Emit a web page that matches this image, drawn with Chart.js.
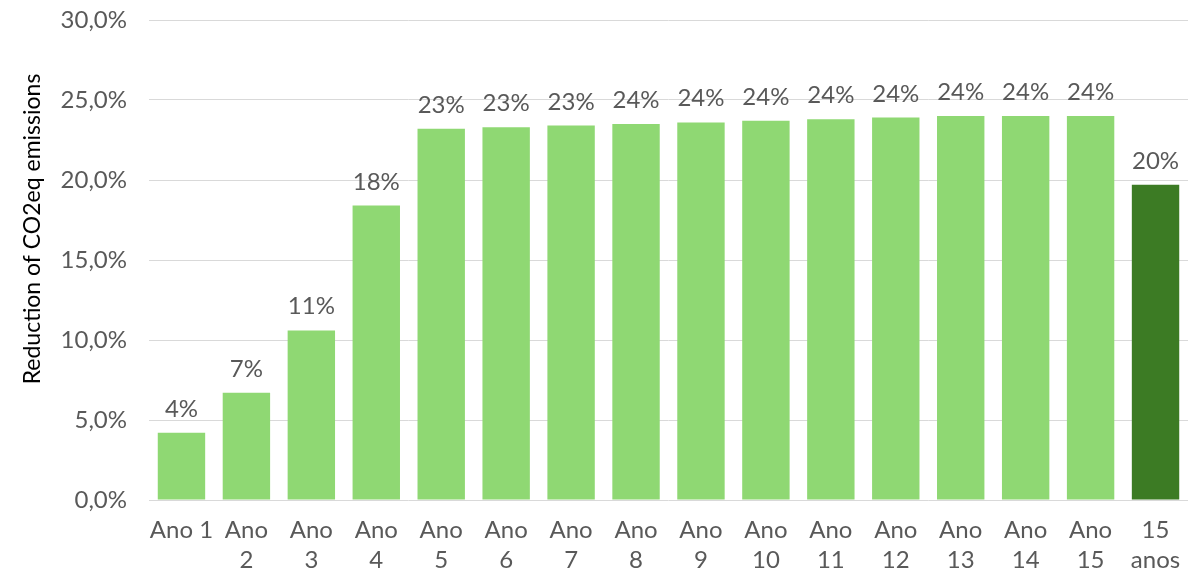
<!DOCTYPE html>
<html>
<head>
<meta charset="utf-8">
<script src="https://cdn.jsdelivr.net/npm/chart.js@4"></script>
<style>
  body { margin: 0; background: #fff; }
  #wrap { width: 1196px; height: 570px; }
</style>
</head>
<body>
<div id="wrap"><canvas id="co2Chart" width="1196" height="570"></canvas></div>
<script>
// categories (multi-line labels as in the original)
const categories = [
  "Ano 1", ["Ano", "2"], ["Ano", "3"], ["Ano", "4"], ["Ano", "5"], ["Ano", "6"],
  ["Ano", "7"], ["Ano", "8"], ["Ano", "9"], ["Ano", "10"], ["Ano", "11"],
  ["Ano", "12"], ["Ano", "13"], ["Ano", "14"], ["Ano", "15"], ["15", "anos"]
];
// reduction of CO2eq emissions, in %
const reduction = [4.2, 6.7, 10.6, 18.4, 23.2, 23.3, 23.4, 23.5, 23.6, 23.7, 23.8, 23.9, 24.0, 24.0, 24.0, 19.7];
const yTicks = [0, 5, 10, 15, 20, 25, 30];
const yTitle = "Reduction of CO2eq emissions";

const lightGreen = "#8fd873";
const darkGreen = "#3c7b24";
const textGrey = "#595959";
const fontFamily = "Lato, sans-serif";

// draws the rounded % above each bar
const barLabels = {
  id: "barLabels",
  afterDatasetsDraw(chart) {
    const ctx = chart.ctx;
    const meta = chart.getDatasetMeta(0);
    ctx.save();
    ctx.font = "24px " + fontFamily;
    ctx.fillStyle = textGrey;
    ctx.textAlign = "center";
    ctx.textBaseline = "alphabetic";
    meta.data.forEach((bar, i) => {
      ctx.fillText(Math.round(reduction[i]) + "%", bar.x, bar.y - 16);
    });
    ctx.restore();
  }
};

// y axis title, a bit above the middle like Excel puts it
const axisTitle = {
  id: "axisTitle",
  afterDraw(chart) {
    const ctx = chart.ctx;
    const area = chart.chartArea;
    ctx.save();
    ctx.translate(33, (area.top + area.bottom) / 2 - 31);
    ctx.rotate(-Math.PI / 2);
    ctx.font = "23px " + fontFamily;
    ctx.fillStyle = "#000";
    ctx.textAlign = "center";
    ctx.textBaseline = "middle";
    ctx.fillText(yTitle, 0, 0);
    ctx.restore();
  }
};

new Chart(document.getElementById("co2Chart").getContext("2d"), {
  type: "bar",
  data: {
    labels: categories,
    datasets: [
      {
        data: reduction,
        backgroundColor: reduction.map((v, i) => (i === reduction.length - 1 ? darkGreen : lightGreen)),
        borderWidth: 0,
        categoryPercentage: 1,
        barPercentage: 0.73,
      },
    ],
  },
  options: {
    responsive: false,
    animation: false,
    layout: { padding: { top: 20, right: 8, left: 0, bottom: 0 } },
    plugins: {
      legend: { display: false },
      tooltip: { enabled: false },
    },
    scales: {
      x: {
        grid: { display: false },
        border: { display: false },
        ticks: {
          color: textGrey,
          font: { family: fontFamily, size: 24, lineHeight: 1.25 },
          maxRotation: 0,
          autoSkip: false,
          padding: 7,
        },
        afterFit: (scale) => {
          scale.height = 70;
          scale.paddingLeft = 0;
          scale.paddingRight = 0;
        },
      },
      y: {
        min: 0,
        max: 30,
        afterBuildTicks: (axis) => {
          axis.ticks = yTicks.map((v) => ({ value: v }));
        },
        grid: { color: "#d9d9d9", lineWidth: 1, drawTicks: false },
        border: { display: false },
        ticks: {
          color: textGrey,
          font: { family: fontFamily, size: 24 },
          padding: 22,
          callback: (v) => v.toFixed(1).replace(".", ",") + "%",
        },
        afterFit: (scale) => {
          scale.width = 149;
          scale.paddingTop = 0;
          scale.paddingBottom = 0;
        },
      },
    },
  },
  plugins: [barLabels, axisTitle],
});
</script>
</body>
</html>
